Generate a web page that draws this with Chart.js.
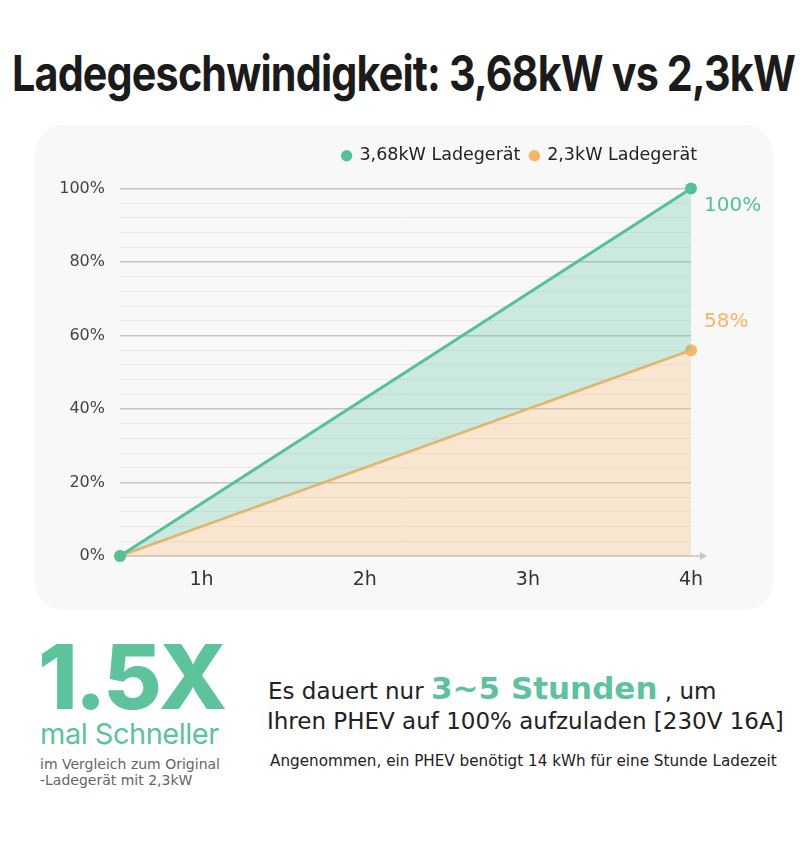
<!DOCTYPE html>
<html>
<head>
<meta charset="utf-8">
<script src="https://cdn.jsdelivr.net/npm/chart.js@4"></script>
<style>
  body { margin: 0; background: #fff; width: 800px; height: 843px; position: relative; overflow: hidden; font-family: "DejaVu Sans", sans-serif; }
  #title { position: absolute; left: 12px; top: 49px; font-family: Inter, sans-serif; font-weight: 700; font-size: 49px; line-height: 49px; letter-spacing: -1px; color: #1b1b1b; white-space: nowrap; transform-origin: 0 0; }
  #card { position: absolute; left: 35px; top: 125px; width: 738px; height: 485px; background: #f8f8f8; border-radius: 28px; }
  #big { position: absolute; left: 38px; top: 632px; font-family: Inter, sans-serif; font-size: 90px; font-weight: 800; color: #5cc39c; letter-spacing: -3px; line-height: 1; }
  #mal { position: absolute; left: 40px; top: 716px; font-family: Inter, sans-serif; font-size: 29px; color: #5cc39c; letter-spacing: -0.5px; }
  #cmp { position: absolute; left: 40px; top: 756px; font-size: 14px; color: #666; line-height: 16px; }
  #l1 { position: absolute; left: 268px; top: 670px; font-size: 23px; color: #222; white-space: nowrap; }
  #l1 b { font-size: 31px; color: #5cc39c; font-weight: 700; }
  #l2 { position: absolute; left: 267px; top: 708px; font-size: 23px; color: #222; white-space: nowrap; }
  #l3 { position: absolute; left: 270px; top: 752px; font-size: 15.2px; color: #222; white-space: nowrap; }
</style>
</head>
<body>
<div id="title">Ladegeschwindigkeit: 3,68kW vs 2,3kW</div>
<div id="card"><canvas id="chart"></canvas></div>
<div id="big">1.5X</div>
<div id="mal">mal Schneller</div>
<div id="cmp">im Vergleich zum Original<br>-Ladegerät mit 2,3kW</div>
<div id="l1">Es dauert nur <b>3~5 Stunden</b> , um</div>
<div id="l2">Ihren PHEV auf 100% aufzuladen [230V 16A]</div>
<div id="l3">Angenommen, ein PHEV benötigt 14 kWh für eine Stunde Ladezeit</div>
<script>
const seriesNames = ['3,68kW Ladegerät', '2,3kW Ladegerät'];
const hours = [0.5, 4];
const fastValues = [0, 100];
const slowValues = [0, 56];
const endLabels = ['100%', '58%'];
const xTicks = [1, 2, 3, 4];

const green = '#55c199';
const orange = '#f7b565';
const font = '"DejaVu Sans", sans-serif';

// squeeze the title to the width it has in the picture
const title = document.getElementById('title');
title.style.transform = 'scaleX(' + (783 / title.offsetWidth) + ')';

// shift legend a bit to the right and leave a gap under it
const legendTweak = {
  id: 'legendTweak',
  beforeInit(chart) {
    const fit = chart.legend.fit;
    chart.legend.fit = function () {
      fit.call(this);
      this.height += 14;
    };
  },
  afterLayout(chart) {
    chart.legend.left += 16;
    chart.legend.right += 16;
  }
};

// arrow at the end of the x axis + value labels at the last points
const extras = {
  id: 'extras',
  afterDatasetsDraw(chart) {
    const { ctx, chartArea } = chart;
    ctx.save();
    ctx.strokeStyle = '#c6c6c6';
    ctx.fillStyle = '#c6c6c6';
    ctx.lineWidth = 1.5;
    ctx.beginPath();
    ctx.moveTo(chartArea.right, chartArea.bottom);
    ctx.lineTo(chartArea.right + 12, chartArea.bottom);
    ctx.stroke();
    ctx.beginPath();
    ctx.moveTo(chartArea.right + 16, chartArea.bottom);
    ctx.lineTo(chartArea.right + 9, chartArea.bottom - 4);
    ctx.lineTo(chartArea.right + 9, chartArea.bottom + 4);
    ctx.closePath();
    ctx.fill();

    ctx.font = '20px ' + font;
    ctx.textBaseline = 'middle';
    chart.data.datasets.forEach((ds, i) => {
      const pts = chart.getDatasetMeta(i).data;
      const p = pts[pts.length - 1];
      ctx.fillStyle = ds.borderColor;
      ctx.fillText(endLabels[i], p.x + 13, p.y + ds.labelDy);
    });
    ctx.restore();
  }
};

new Chart(document.getElementById('chart'), {
  type: 'line',
  data: {
    datasets: [
      {
        label: seriesNames[0],
        data: hours.map((h, i) => ({ x: h, y: fastValues[i] })),
        borderColor: green,
        backgroundColor: green,
        fill: { target: '+1', above: 'rgba(85,193,153,0.28)', below: 'rgba(85,193,153,0.28)' },
        borderWidth: 3,
        pointRadius: 6,
        pointHoverRadius: 6,
        pointBorderWidth: 0,
        clip: false,
        labelDy: 17
      },
      {
        label: seriesNames[1],
        data: hours.map((h, i) => ({ x: h, y: slowValues[i] })),
        borderColor: orange,
        backgroundColor: orange,
        fill: { target: 'origin', above: 'rgba(250,190,120,0.3)' },
        borderWidth: 2.5,
        pointRadius: 6,
        pointHoverRadius: 6,
        pointBorderWidth: 0,
        clip: false,
        labelDy: -28
      }
    ]
  },
  options: {
    responsive: true,
    maintainAspectRatio: false,
    animation: false,
    layout: { padding: { top: 12, right: 82, left: 0, bottom: 0 } },
    plugins: {
      tooltip: { enabled: false },
      legend: {
        position: 'top',
        align: 'end',
        labels: {
          usePointStyle: true,
          pointStyle: 'circle',
          boxWidth: 8,
          boxHeight: 8,
          padding: 10,
          color: '#222',
          font: { family: font, size: 17.5 }
        }
      }
    },
    scales: {
      x: {
        type: 'linear',
        min: 0.5,
        max: 4,
        afterFit(scale) { scale.height = 54; },
        afterBuildTicks(scale) { scale.ticks = xTicks.map(v => ({ value: v })); },
        grid: { display: false, drawTicks: false },
        border: { display: true, color: '#c6c6c6', width: 1.5 },
        ticks: {
          padding: 13,
          color: '#333',
          font: { family: font, size: 19 },
          callback: v => v + 'h'
        }
      },
      y: {
        min: 0,
        max: 100,
        afterFit(scale) { scale.width = 85; },
        border: { display: false },
        grid: {
          drawTicks: false,
          color: c => c.tick.value % 20 === 0 ? '#c6c6c6' : '#e9e9e9',
          lineWidth: c => c.tick.value % 20 === 0 ? 1.5 : 1
        },
        ticks: {
          stepSize: 4,
          autoSkip: false,
          padding: 15,
          color: '#444',
          font: { family: font, size: 16 },
          callback: v => v % 20 === 0 ? v + '%' : ''
        }
      }
    }
  },
  plugins: [legendTweak, extras]
});
</script>
</body>
</html>
